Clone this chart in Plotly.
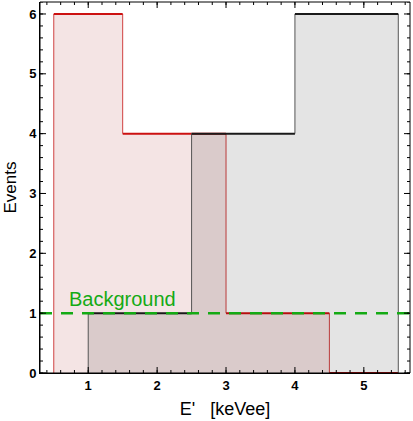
import plotly.graph_objects as go

# histogram data (bin edges and counts)
red_edges = [0.5, 1.5, 2.5, 3.0, 4.5, 5.5]
red_counts = [6, 4, 4, 1, 0]
black_edges = [1.0, 2.5, 4.0, 5.5]
black_counts = [1, 4, 6]
background_level = 1
background_label = "Background"

x_title = "E'   [keVee]"
y_title = "Events"

X_RANGE = [0.3, 5.67]
Y_RANGE = [0, 6.2]
GREEN = "rgb(20,170,20)"


def tops(edges, counts):
    xs, ys = [], []
    for i, c in enumerate(counts):
        xs += [edges[i], edges[i + 1], None]
        ys += [c, c, None]
    return xs, ys


def sides(edges, counts):
    xs, ys = [], []
    padded = [0] + list(counts) + [0]
    for i, e in enumerate(edges):
        xs += [e, e, None]
        ys += [padded[i], padded[i + 1], None]
    return xs, ys


def add_hist(fig, edges, counts, fillcolor, topcolor, sidecolor):
    fig.add_trace(go.Scatter(x=edges, y=list(counts) + [counts[-1]],
                             mode="lines", line=dict(shape="hv", width=0),
                             fill="tozeroy", fillcolor=fillcolor,
                             hoverinfo="skip", showlegend=False))
    sx, sy = sides(edges, counts)
    fig.add_trace(go.Scatter(x=sx, y=sy, mode="lines",
                             line=dict(color=sidecolor, width=1),
                             hoverinfo="skip", showlegend=False))
    tx, ty = tops(edges, counts)
    fig.add_trace(go.Scatter(x=tx, y=ty, mode="lines",
                             line=dict(color=topcolor, width=2),
                             hoverinfo="skip", showlegend=False))


def frame_ticks(fig, lo, hi, step, length, horizontal):
    # inward ticks on both sides of the frame (mathematica-style box)
    n0 = int(round(lo / step + 0.4999))
    n1 = int(hi / step)
    tick = dict(color="black", width=1)
    for n in range(n0, n1 + 1):
        v = round(n * step, 6)
        if horizontal:
            fig.add_shape(type="line", xref="x", x0=v, x1=v, yref="paper",
                          ysizemode="pixel", yanchor=0, y0=0, y1=length, line=tick)
            fig.add_shape(type="line", xref="x", x0=v, x1=v, yref="paper",
                          ysizemode="pixel", yanchor=1, y0=0, y1=-length, line=tick)
        else:
            fig.add_shape(type="line", yref="y", y0=v, y1=v, xref="paper",
                          xsizemode="pixel", xanchor=0, x0=0, x1=length, line=tick)
            fig.add_shape(type="line", yref="y", y0=v, y1=v, xref="paper",
                          xsizemode="pixel", xanchor=1, x0=0, x1=-length, line=tick)


fig = go.Figure()
add_hist(fig, red_edges, red_counts, "rgba(150,0,0,0.105)", "#cc1111", "#d04040")
add_hist(fig, black_edges, black_counts, "rgba(0,0,0,0.105)", "#1a1a1a", "#555555")

fig.add_hline(y=background_level, line=dict(color=GREEN, width=2.5, dash="12px,9px"))
fig.add_annotation(x=1.5, y=background_level, yshift=1, text=background_label,
                   showarrow=False, yanchor="bottom",
                   font=dict(family="Liberation Sans, Arial", size=20, color=GREEN))

# frame and ticks
fig.add_shape(type="rect", xref="paper", yref="paper", x0=0, x1=1, y0=0, y1=1,
              line=dict(color="black", width=1))
frame_ticks(fig, X_RANGE[0], X_RANGE[1], 1, 6, True)
frame_ticks(fig, X_RANGE[0], X_RANGE[1], 0.2, 3, True)
frame_ticks(fig, Y_RANGE[0], Y_RANGE[1], 1, 6, False)
frame_ticks(fig, Y_RANGE[0], Y_RANGE[1], 0.2, 3, False)

tick_font = dict(family="Liberation Sans, Arial", size=13, color="black", weight="bold")

fig.update_xaxes(range=X_RANGE, dtick=1, tick0=0,
                 showline=True, linecolor="black", linewidth=1,
                 ticks="", showgrid=False, zeroline=False, tickfont=tick_font,
                 title=dict(text=x_title, standoff=10,
                            font=dict(family="Liberation Sans, Arial", size=18, color="black")))
fig.update_yaxes(range=Y_RANGE, dtick=1, tick0=0,
                 showline=True, linecolor="black", linewidth=1,
                 ticks="", showgrid=False, zeroline=False, tickfont=tick_font,
                 title=dict(text=y_title, standoff=8,
                            font=dict(family="Liberation Sans, Arial", size=17, color="black")))

fig.update_layout(width=413, height=421, plot_bgcolor="white", paper_bgcolor="white",
                  margin=dict(l=40, r=3, t=2, b=48, autoexpand=False))

fig.write_html("out.html", config={"displayModeBar": False},
               post_script="document.body.style.margin='0';")
